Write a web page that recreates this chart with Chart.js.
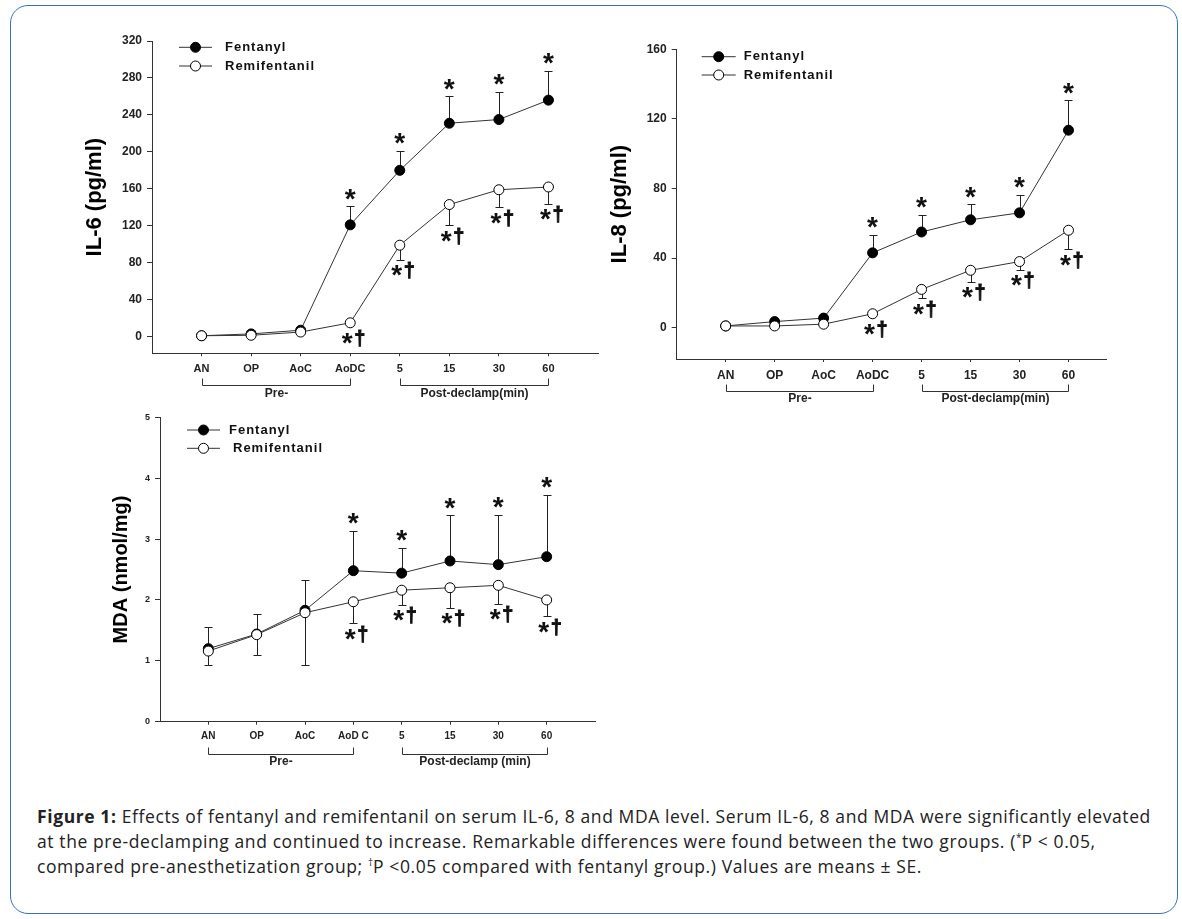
<!DOCTYPE html>
<html>
<head>
<meta charset="utf-8">
<script src="https://cdn.jsdelivr.net/npm/chart.js@4.4.1/dist/chart.umd.min.js"></script>
<style>
  body { margin: 0; background: #fff; width: 1182px; height: 919px; position: relative; overflow: hidden; }
  #frame { position: absolute; left: 10px; top: 5px; width: 1168px; height: 909px; border: 1.5px solid #3d6fc0; border-radius: 18px; box-sizing: border-box; }
  canvas { position: absolute; }
  #cap { position: absolute; left: 37px; top: 804px; font-family: 'Open Sans', sans-serif; font-size: 17.5px; letter-spacing: 0.6px; line-height: 25px; color: #222; white-space: nowrap; }
  #cap sup { font-size: 10px; vertical-align: 7px; line-height: 0; letter-spacing: 0; }
</style>
</head>
<body>
<div id="frame"></div>
<canvas id="il6" width="570" height="380" style="left:50px;top:20px"></canvas>
<canvas id="il8" width="570" height="390" style="left:600px;top:30px"></canvas>
<canvas id="mda" width="560" height="390" style="left:60px;top:400px"></canvas>
<div id="cap"><b>Figure 1:</b> Effects of fentanyl and remifentanil on serum IL-6, 8 and MDA level. Serum IL-6, 8 and MDA were significantly elevated<br>at the pre-declamping and continued to increase. Remarkable differences were found between the two groups. (<sup>*</sup>P &lt; 0.05,<br>compared pre-anesthetization group; <sup>†</sup>P &lt;0.05 compared with fentanyl group.) Values are means ± SE.</div>
<script>
// categories along the time axis
const categories = ['AN', 'OP', 'AoC', 'AoDC', '5', '15', '30', '60'];
const categoriesMda = ['AN', 'OP', 'AoC', 'AoD C', '5', '15', '30', '60'];
const groupLabels = ['Pre-', 'Post-declamp(min)'];
const groupLabelsMda = ['Pre-', 'Post-declamp (min)'];
const seriesNames = ['Fentanyl', 'Remifentanil'];

// IL-6 (pg/ml), means and SE
const il6Fentanyl = [1, 3, 7, 121, 180, 231, 235, 256];
const il6FentanylSE = [0, 0, 0, 20, 21, 29, 30, 32];
const il6Remi = [1, 1.5, 5, 15, 99, 143, 159, 162];
const il6RemiSE = [0, 0, 0, 0, 16, 22.5, 19, 18];

// IL-8 (pg/ml)
const il8Fentanyl = [1, 3.5, 5.5, 43, 55, 62, 66, 113.5];
const il8FentanylSE = [0, 0, 0, 10.3, 10, 8.8, 10.5, 17.3];
const il8Remi = [1, 1, 2, 8, 22, 33, 38, 56];
const il8RemiSE = [0, 0, 0, 0, 5, 6.5, 4.8, 11];

// MDA (nmol/mg)
const mdaFentanyl = [1.2, 1.44, 1.83, 2.48, 2.44, 2.64, 2.58, 2.71];
const mdaFentanylSE = [0.36, 0.33, 0.5, 0.66, 0.42, 0.75, 0.82, 1.02];
const mdaRemi = [1.16, 1.43, 1.79, 1.97, 2.16, 2.2, 2.24, 2.0];
const mdaRemiSE = [0.23, 0.33, 0.86, 0.35, 0.24, 0.33, 0.3, 0.27];

// significance marks: * vs pre-anesthetization, † vs fentanyl
const sigFentanyl = [0, 0, 0, 1, 1, 1, 1, 1];
const sigRemi = [0, 0, 0, 1, 1, 1, 1, 1];

Chart.defaults.font.family = 'Arial, "Liberation Sans", sans-serif';
Chart.defaults.color = '#222';

const AXIS = '#333';
const FONT = 'Arial, "Liberation Sans", sans-serif';

// draw one glyph with its ink box centred on (x, cy)
function glyph(ctx, ch, size, x, cy, thicken) {
  ctx.font = 'bold ' + size + 'px ' + FONT;
  const m = ctx.measureText(ch);
  const h = m.actualBoundingBoxAscent + m.actualBoundingBoxDescent;
  const w = m.actualBoundingBoxLeft + m.actualBoundingBoxRight;
  const tx = x - w / 2 + m.actualBoundingBoxLeft;
  const ty = cy - h / 2 + m.actualBoundingBoxAscent;
  ctx.fillText(ch, tx, ty);
  if (thicken) {
    ctx.lineWidth = thicken;
    ctx.strokeStyle = ctx.fillStyle;
    ctx.strokeText(ch, tx, ty);
  }
}

const figPlugin = {
  id: 'fig',
  beforeDatasetsDraw(chart) {
    const ctx = chart.ctx, ys = chart.scales.y;
    ctx.save();
    ctx.strokeStyle = '#222';
    ctx.lineWidth = 1;
    chart.data.datasets.forEach((ds, di) => {
      const meta = chart.getDatasetMeta(di);
      meta.data.forEach((pt, i) => {
        const se = ds.se[i];
        if (!se) return;
        const x = Math.round(pt.x) + 0.5;
        const y1 = Math.round(ys.getPixelForValue(ds.data[i].y + ds.errDir * se)) + 0.5;
        ctx.beginPath();
        ctx.moveTo(x, pt.y);
        ctx.lineTo(x, y1);
        ctx.moveTo(x - 4, y1);
        ctx.lineTo(x + 4, y1);
        ctx.stroke();
      });
    });
    ctx.restore();
  },
  afterDraw(chart, args, opts) {
    const ctx = chart.ctx, xs = chart.scales.x, ys = chart.scales.y;
    const area = chart.chartArea;
    ctx.save();
    // significance marks
    ctx.fillStyle = '#111';
    ctx.textAlign = 'left';
    ctx.textBaseline = 'alphabetic';
    chart.data.datasets.forEach((ds, di) => {
      const meta = chart.getDatasetMeta(di);
      meta.data.forEach((pt, i) => {
        if (!ds.sig[i]) return;
        const se = ds.se[i];
        if (ds.errDir > 0) {
          const top = se ? ys.getPixelForValue(ds.data[i].y + se) : pt.y - 5;
          glyph(ctx, '*', opts.starSize, pt.x, top - 12);
        } else {
          const bot = se ? ys.getPixelForValue(ds.data[i].y - se) : pt.y + 5;
          const cy = bot + 11;
          glyph(ctx, '*', opts.starSize, pt.x - 3, cy);
          glyph(ctx, '†', opts.daggerSize, pt.x + 9.5, cy, 0.9);
        }
      });
    });

    // brackets under the time axis
    ctx.textAlign = 'center';
    [[0, 3], [4, 7]].forEach(([a, b], gi) => {
      const xa = Math.round(xs.getPixelForValue(a)) + 0.5;
      const xb = Math.round(xs.getPixelForValue(b)) + 0.5;
      const yb = Math.round(area.bottom + opts.bracketY) + 0.5;
      ctx.strokeStyle = AXIS;
      ctx.lineWidth = 1;
      ctx.beginPath();
      ctx.moveTo(xa, yb - 7);
      ctx.lineTo(xa, yb);
      ctx.lineTo(xb, yb);
      ctx.lineTo(xb, yb - 7);
      ctx.stroke();
      ctx.font = 'bold ' + opts.groupSize + 'px ' + FONT;
      ctx.fillStyle = '#222';
      ctx.textBaseline = 'middle';
      ctx.fillText(opts.groups[gi], (xa + xb) / 2, area.bottom + opts.groupY);
    });

    // legend
    const lg = opts.legend;
    ctx.textAlign = 'left';
    ctx.textBaseline = 'middle';
    chart.data.datasets.forEach((ds, di) => {
      const y = area.top + lg.y + di * lg.dy;
      const x0 = area.left + lg.x;
      ctx.strokeStyle = ds.borderColor;
      ctx.lineWidth = 1;
      ctx.beginPath();
      ctx.moveTo(x0, y);
      ctx.lineTo(x0 + lg.w, y);
      ctx.stroke();
      ctx.beginPath();
      ctx.arc(x0 + lg.w / 2, y, 5, 0, Math.PI * 2);
      ctx.fillStyle = ds.pointBackgroundColor;
      ctx.fill();
      ctx.strokeStyle = '#000';
      ctx.stroke();
      ctx.fillStyle = '#111';
      ctx.font = 'bold 13px ' + FONT;
      ctx.letterSpacing = '1px';
      ctx.fillText(ds.label, area.left + lg.tx + (lg.txShift ? lg.txShift[di] : 0), y);
      ctx.letterSpacing = '0px';
    });
    ctx.restore();
  }
};

function makeChart(id, s) {
  const pts = arr => arr.map((v, i) => ({ x: i, y: v }));
  return new Chart(document.getElementById(id), {
    type: 'line',
    data: {
      datasets: [
        {
          label: seriesNames[0], data: pts(s.fent), se: s.fentSE, errDir: 1, sig: sigFentanyl,
          borderColor: '#333', borderWidth: 1, pointRadius: 5, pointBorderWidth: 1,
          pointBackgroundColor: '#000', pointBorderColor: '#000', order: 2
        },
        {
          label: seriesNames[1], data: pts(s.remi), se: s.remiSE, errDir: -1, sig: sigRemi,
          borderColor: '#333', borderWidth: 1, pointRadius: 5, pointBorderWidth: 1,
          pointBackgroundColor: '#fff', pointBorderColor: '#000', order: 1
        }
      ]
    },
    options: {
      responsive: false,
      animation: false,
      devicePixelRatio: 1,
      layout: { padding: { top: s.padTop, right: s.padRight, left: 0, bottom: 0 } },
      plugins: {
        legend: { display: false },
        tooltip: { enabled: false },
        fig: {
          starSize: 28, daggerSize: 20, groupSize: s.groupSize, groups: s.groups,
          bracketY: 32, groupY: 40, legend: s.legend
        }
      },
      scales: {
        x: {
          type: 'linear', min: -1, max: s.xMax,
          afterBuildTicks: ax => { ax.ticks = s.cats.map((c, i) => ({ value: i })); },
          afterFit: ax => { ax.height = s.xH; },
          ticks: { autoSkip: false, maxRotation: 0, padding: 6, color: '#222',
            font: { size: s.xFont, weight: 'bold' }, callback: v => s.cats[v] },
          grid: { drawOnChartArea: false, drawTicks: true, tickLength: 3, tickColor: AXIS },
          border: { color: AXIS, width: 1 }
        },
        y: {
          min: s.yMin, max: s.yMax,
          afterBuildTicks: ax => { ax.ticks = ax.ticks.filter(t => t.value >= 0); },
          afterFit: ax => { ax.width = s.yW; },
          ticks: { stepSize: s.yStep, padding: 5, color: '#222', font: { size: s.yFont, weight: 'bold' } },
          grid: { drawOnChartArea: false, drawTicks: true, tickLength: 5, tickColor: AXIS },
          border: { color: AXIS, width: 1 },
          title: { display: true, text: s.title, color: '#000',
            font: { size: s.titleSize, weight: 'bold' }, padding: { top: s.titlePad } }
        }
      }
    },
    plugins: [figPlugin]
  });
}

makeChart('il6', {
  fent: il6Fentanyl, fentSE: il6FentanylSE, remi: il6Remi, remiSE: il6RemiSE,
  cats: categories, groups: groupLabels, title: 'IL-6 (pg/ml)',
  yMin: -18, yMax: 320, yStep: 40, xMax: 8,
  padTop: 21, padRight: 22, yW: 102, xH: 46.7,
  xFont: 11, yFont: 12, groupSize: 12, titleSize: 22, titlePad: 31.8,
  legend: { x: 27, w: 33, y: 6.3, dy: 18.7, tx: 73 }
});

makeChart('il8', {
  fent: il8Fentanyl, fentSE: il8FentanylSE, remi: il8Remi, remiSE: il8RemiSE,
  cats: categories, groups: groupLabels, title: 'IL-8 (pg/ml)',
  yMin: -18, yMax: 160, yStep: 40, xMax: 7.78,
  padTop: 19.3, padRight: 63.3, yW: 76.7, xH: 61,
  xFont: 12, yFont: 12, groupSize: 12, titleSize: 22, titlePad: 6.8,
  legend: { x: 25, w: 34, y: 7.4, dy: 18.3, tx: 67 }
});

makeChart('mda', {
  fent: mdaFentanyl, fentSE: mdaFentanylSE, remi: mdaRemi, remiSE: mdaRemiSE,
  cats: categoriesMda, groups: groupLabelsMda, title: 'MDA (nmol/mg)',
  yMin: 0, yMax: 5, yStep: 1, xMax: 8,
  padTop: 17.3, padRight: 25, yW: 100, xH: 68.3,
  xFont: 10, yFont: 9, groupSize: 12, titleSize: 20, titlePad: 49.7,
  legend: { x: 27, w: 33, y: 12.7, dy: 18.3, tx: 69, txShift: [0, 4] }
});
</script>
</body>
</html>
